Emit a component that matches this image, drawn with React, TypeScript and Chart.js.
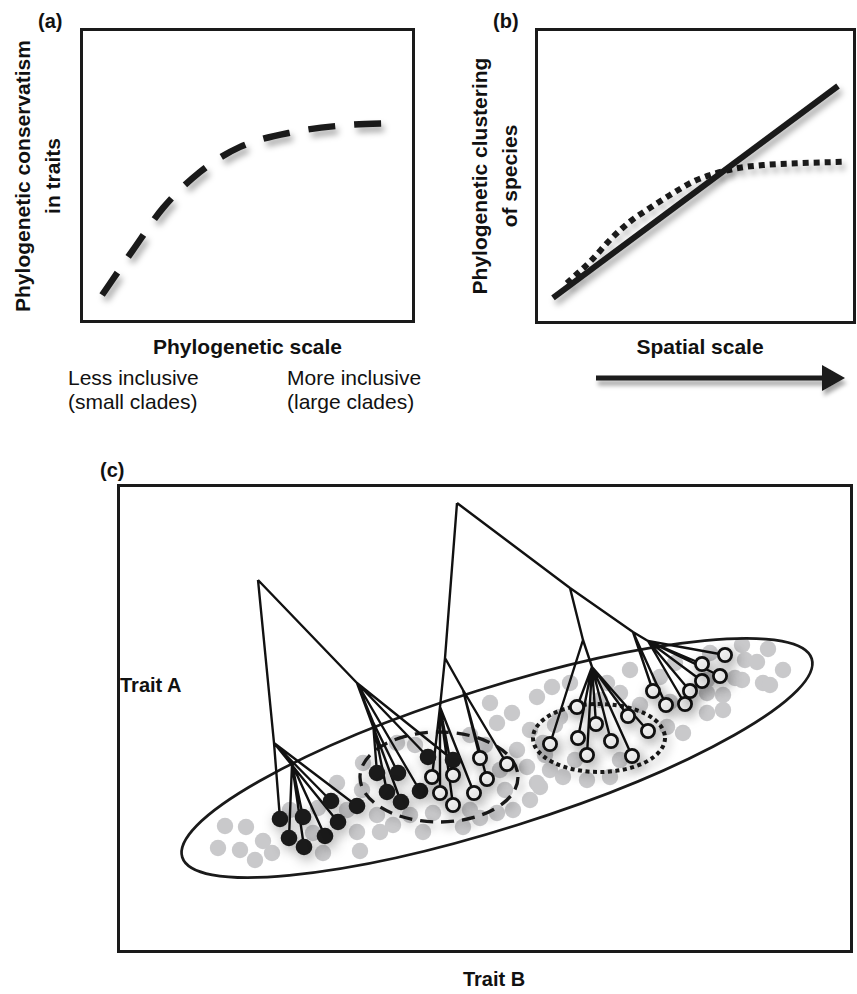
import React, { useEffect, useRef } from 'react';
import { Chart, registerables } from 'chart.js';

Chart.register(...registerables);

// ---------- Panel (a): phylogenetic conservatism vs phylogenetic scale (0-100 units) ----------
const conservatismX = [6.6, 15.8, 24.8, 35.8, 47.8, 63.6, 79.7, 94.9];
const conservatismY = [9.5, 24.7, 39.0, 51.2, 59.7, 64.7, 67.1, 67.8];

// ---------- Panel (b): phylogenetic clustering vs spatial scale (0-100 units) ----------
const linearX = [5.6, 94.4];
const linearY = [8.8, 80.4];
const saturatingX = [9.9, 17.1, 23.9, 29.6, 34.8, 42.1, 49.3, 54.5, 62.8, 71.1, 81.5, 96.0];
const saturatingY = [13.8, 21.0, 29.0, 34.6, 38.5, 43.6, 48.1, 50.3, 52.6, 53.7, 54.3, 54.8];

// ---------- Panel (c): trait space (Trait B on x: 0-736, Trait A on y: 0-469) ----------
const TRAIT_B_RANGE = [0, 736];
const TRAIT_A_RANGE = [0, 469];

// internal nodes of the phylogeny
const treeNodes: Record<string, [number, number]> = {
  L0: [141, 373],
  LA: [157, 210],
  LA1: [175, 189],
  LB: [240, 270],
  LB1: [256, 231],
  R: [340, 450],
  N2: [328, 295],
  N2a: [346, 263],
  N2b: [323, 246],
  RA: [453, 365],
  RB: [516, 321],
  RC: [531, 312],
  RD: [466, 313],
  RE: [475, 286],
};
const treeEdges: [string, string][] = [
  ['L0', 'LA'], ['L0', 'LB'], ['LA', 'LA1'], ['LB', 'LB1'],
  ['R', 'N2'], ['R', 'RA'], ['N2', 'N2a'], ['N2', 'N2b'],
  ['RA', 'RB'], ['RB', 'RC'], ['RA', 'RD'], ['RD', 'RE'],
];
// tips: [traitB, traitA, parent node]
const blackTips: [number, number, string][] = [
  [163, 134, 'LA'], [186, 136, 'LA1'], [172, 115, 'LA1'], [187, 106, 'LA1'],
  [208, 117, 'LA1'], [221, 131, 'LA'], [214, 152, 'LA'], [240, 147, 'LA'],
  [260, 180, 'LB1'], [281, 180, 'LB1'], [270, 161, 'LB1'], [284, 151, 'LB'],
  [303, 162, 'LB'], [311, 196, 'LB'], [336, 193, 'LB'],
];
const whiteTips: [number, number, string][] = [
  [363, 195, 'N2a'], [390, 189, 'N2a'], [370, 174, 'N2a'],
  [315, 176, 'N2b'], [336, 178, 'N2b'], [323, 160, 'N2b'], [336, 148, 'N2b'], [357, 160, 'N2b'],
  [433, 209, 'RD'],
  [460, 246, 'RE'], [479, 229, 'RE'], [461, 215, 'RE'], [470, 198, 'RE'],
  [494, 212, 'RE'], [511, 237, 'RE'], [531, 222, 'RE'], [515, 197, 'RE'],
  [536, 262, 'RB'], [549, 248, 'RB'],
  [568, 249, 'RC'], [573, 262, 'RC'], [585, 272, 'RC'], [585, 289, 'RC'], [603, 277, 'RC'], [608, 298, 'RC'],
];
// other species in the regional pool
const poolSpecies: [number, number][] = [
  [108, 127], [129, 126], [101, 105], [123, 103], [138, 93], [146, 112], [155, 100],
  [173, 143], [201, 145], [196, 120], [206, 100], [220, 170], [230, 143], [240, 121],
  [243, 102], [246, 190], [245, 163], [260, 138], [263, 121], [276, 128], [306, 121],
  [316, 140], [346, 126], [363, 135], [380, 140], [396, 143], [413, 153], [423, 166],
  [433, 183], [280, 210], [373, 250], [395, 240], [420, 256], [413, 223], [426, 210],
  [380, 230], [400, 203], [410, 186], [420, 170], [513, 283], [543, 276], [558, 290],
  [550, 226], [566, 220], [590, 240], [606, 243], [590, 273], [435, 266], [453, 270],
  [490, 270], [503, 260], [443, 236], [553, 251], [470, 173], [493, 176], [446, 176],
  [625, 308], [651, 304], [628, 293], [640, 291], [666, 283], [593, 300], [618, 275],
  [625, 273], [646, 270], [653, 268], [606, 258], [590, 260], [298, 208], [353, 218],
  [368, 208], [383, 183], [388, 163], [353, 143], [293, 138], [438, 228], [458, 193],
  [483, 253], [523, 248], [503, 193], [428, 198],
];
// regions: [centre B, centre A, radius B, radius A, tilt in degrees]
const regionPool = [380, 195, 330, 70, 17.5];
const regionOverdispersed = [322, 176, 79, 45, 0];
const regionClustered = [482, 215, 66, 34, 0];

const FONT = '"Liberation Sans", Arial, Helvetica, sans-serif';
const INK = '#1a1a1a';

const framePlugin = {
  id: 'frame',
  afterDraw(chart: any) {
    const { ctx, chartArea: a } = chart;
    ctx.save();
    ctx.strokeStyle = INK;
    ctx.lineWidth = 3;
    ctx.strokeRect(a.left + 1.5, a.top + 1.5, a.right - a.left - 3, a.bottom - a.top - 3);
    ctx.restore();
  },
};

function shadowPlugin(indices: number[], color: string, blur: number, dx: number, dy: number) {
  return {
    id: 'dropShadow',
    beforeDatasetDraw(chart: any, args: any) {
      if (!indices.includes(args.index)) return;
      const ctx = chart.ctx;
      ctx.save();
      ctx.shadowColor = color;
      ctx.shadowBlur = blur;
      ctx.shadowOffsetX = dx;
      ctx.shadowOffsetY = dy;
    },
    afterDatasetDraw(chart: any, args: any) {
      if (!indices.includes(args.index)) return;
      chart.ctx.restore();
    },
  };
}

const baseOptions = (xr: number[], yr: number[]) => ({
  responsive: false,
  maintainAspectRatio: false,
  animation: false as const,
  events: [] as any[],
  layout: { padding: 0, autoPadding: false },
  plugins: { legend: { display: false }, tooltip: { enabled: false } },
  scales: {
    x: { type: 'linear' as const, min: xr[0], max: xr[1], display: false },
    y: { type: 'linear' as const, min: yr[0], max: yr[1], display: false },
  },
});

const pairs = (xs: number[], ys: number[]) => xs.map((x, i) => ({ x, y: ys[i] }));

function buildPanelA() {
  return {
    type: 'scatter',
    data: {
      datasets: [
        {
          data: pairs(conservatismX, conservatismY),
          showLine: true,
          borderColor: INK,
          borderWidth: 6.5,
          borderDash: [27, 19],
          borderCapStyle: 'butt',
          cubicInterpolationMode: 'monotone',
          pointRadius: 0,
        },
      ],
    },
    options: baseOptions([0, 100], [0, 100]),
    plugins: [framePlugin, shadowPlugin([0], 'rgba(0,0,0,0.35)', 6, 3, 5)],
  };
}

function buildPanelB() {
  return {
    type: 'scatter',
    data: {
      datasets: [
        {
          data: pairs(linearX, linearY),
          showLine: true,
          borderColor: INK,
          borderWidth: 6,
          pointRadius: 0,
          order: 0,
        },
        {
          data: pairs(saturatingX, saturatingY),
          showLine: true,
          borderColor: INK,
          borderWidth: 6,
          borderDash: [6, 5],
          borderCapStyle: 'butt',
          cubicInterpolationMode: 'monotone',
          pointRadius: 0,
          order: 1,
        },
      ],
    },
    options: baseOptions([0, 100], [0, 100]),
    plugins: [framePlugin, shadowPlugin([0, 1], 'rgba(0,0,0,0.35)', 6, 3, 5)],
  };
}

function buildPanelC() {
  const branchData: { x: number; y: number | null }[] = [];
  const addEdge = (p: [number, number], c: [number, number]) => {
    branchData.push({ x: p[0], y: p[1] }, { x: c[0], y: c[1] }, { x: c[0], y: null });
  };
  treeEdges.forEach(([p, c]) => addEdge(treeNodes[p], treeNodes[c]));
  [...blackTips, ...whiteTips].forEach(([x, y, p]) => addEdge(treeNodes[p], [x, y]));

  const GRAY = 3;
  const regions = [
    { r: regionPool, dash: [] as number[], width: 2.7, shadow: false },
    { r: regionOverdispersed, dash: [13, 8], width: 3.3, shadow: true },
    { r: regionClustered, dash: [4, 3.5], width: 4, shadow: true },
  ];
  const regionPlugin = {
    id: 'regions',
    afterDatasetDraw(chart: any, args: any) {
      if (args.index !== GRAY) return;
      const { ctx, scales } = chart;
      const xs = scales.x, ys = scales.y;
      regions.forEach(({ r, dash, width, shadow }) => {
        const [cx, cy, rx, ry, tilt] = r;
        const px = xs.getPixelForValue(cx);
        const py = ys.getPixelForValue(cy);
        const prx = xs.getPixelForValue(cx + rx) - px;
        const pry = py - ys.getPixelForValue(cy + ry);
        ctx.save();
        if (shadow) {
          ctx.shadowColor = 'rgba(0,0,0,0.4)';
          ctx.shadowBlur = 10;
          ctx.shadowOffsetX = 3;
          ctx.shadowOffsetY = 4;
        }
        ctx.strokeStyle = INK;
        ctx.lineWidth = width;
        ctx.setLineDash(dash);
        ctx.lineCap = 'butt';
        ctx.beginPath();
        ctx.ellipse(px, py, prx, pry, (-tilt * Math.PI) / 180, 0, Math.PI * 2);
        ctx.stroke();
        ctx.restore();
      });
    },
  };

  return {
    type: 'scatter',
    data: {
      datasets: [
        {
          data: whiteTips.map(([x, y]) => ({ x, y })),
          pointRadius: 6.6,
          pointBackgroundColor: '#ffffff',
          pointBorderColor: '#111111',
          pointBorderWidth: 2.8,
          order: 0,
        },
        {
          data: blackTips.map(([x, y]) => ({ x, y })),
          pointRadius: 8.3,
          pointBackgroundColor: INK,
          pointBorderColor: INK,
          pointBorderWidth: 0,
          order: 1,
        },
        {
          data: branchData,
          showLine: true,
          borderColor: '#111111',
          borderWidth: 2.4,
          pointRadius: 0,
          spanGaps: false,
          order: 2,
        },
        {
          data: poolSpecies.map(([x, y]) => ({ x, y })),
          pointRadius: 8.2,
          pointBackgroundColor: '#c9c9cb',
          pointBorderColor: '#c9c9cb',
          pointBorderWidth: 0,
          order: 3,
        },
      ],
    },
    options: baseOptions(TRAIT_B_RANGE, TRAIT_A_RANGE),
    plugins: [regionPlugin, framePlugin, shadowPlugin([0, 1], 'rgba(0,0,0,0.38)', 13, 3, 4)],
  };
}

function ChartCanvas({ left, top, width, height, build }: any) {
  const ref = useRef<HTMLCanvasElement | null>(null);
  useEffect(() => {
    if (!ref.current) return;
    const chart = new Chart(ref.current, build());
    return () => chart.destroy();
  }, []);
  return (
    <canvas
      ref={ref}
      width={width}
      height={height}
      style={{ position: 'absolute', left, top, width, height }}
    />
  );
}

function Text({ left, top, size = 21, bold = false, center = false, lh, children }: any) {
  return (
    <div
      style={{
        position: 'absolute',
        left,
        top,
        fontFamily: FONT,
        fontSize: size,
        fontWeight: bold ? 700 : 400,
        lineHeight: `${lh ?? size}px`,
        color: '#111',
        whiteSpace: 'nowrap',
        transform: center ? 'translateX(-50%)' : undefined,
        textAlign: center ? 'center' : 'left',
      }}
    >
      {children}
    </div>
  );
}

function YTitle({ cx, cy, lines }: { cx: number; cy: number; lines: string[] }) {
  return (
    <div
      style={{
        position: 'absolute',
        left: cx,
        top: cy,
        transform: 'translate(-50%, -50%) rotate(-90deg)',
        fontFamily: FONT,
        fontSize: 21,
        fontWeight: 700,
        lineHeight: '30px',
        color: '#111',
        whiteSpace: 'nowrap',
        textAlign: 'center',
      }}
    >
      {lines.map((l) => (
        <div key={l}>{l}</div>
      ))}
    </div>
  );
}

export default function App() {
  return (
    <div
      style={{
        position: 'absolute',
        left: 0,
        top: 0,
        width: 857,
        height: 994,
        background: '#ffffff',
        overflow: 'hidden',
      }}
    >
      {/* Panel (a) */}
      <Text left={38} top={11} size={20} bold>(a)</Text>
      <YTitle cx={38} cy={175.5} lines={['Phylogenetic conservatism', 'in traits']} />
      <ChartCanvas left={80} top={28} width={335} height={295} build={buildPanelA} />
      <Text left={247.5} top={336} bold center>Phylogenetic scale</Text>
      <Text left={68} top={366} lh={24}>
        Less inclusive
        <br />
        (small clades)
      </Text>
      <Text left={287} top={366} lh={24}>
        More inclusive
        <br />
        (large clades)
      </Text>

      {/* Panel (b) */}
      <Text left={493} top={11} size={20} bold>(b)</Text>
      <YTitle cx={495} cy={176} lines={['Phylogenetic clustering', 'of species']} />
      <ChartCanvas left={535} top={28} width={321} height={296} build={buildPanelB} />
      <Text left={700} top={336} bold center>Spatial scale</Text>
      <svg
        width={270}
        height={46}
        style={{ position: 'absolute', left: 588, top: 356 }}
      >
        <defs>
          <filter id="arrowShadow" x="-10%" y="-60%" width="125%" height="260%">
            <feDropShadow dx="2" dy="5" stdDeviation="2.2" floodColor="#000" floodOpacity="0.35" />
          </filter>
        </defs>
        <g filter="url(#arrowShadow)">
          <line x1={8} y1={22} x2={238} y2={22} stroke={INK} strokeWidth={5} />
          <polygon points="234,9 257,22 234,35" fill={INK} />
        </g>
      </svg>

      {/* Panel (c) */}
      <Text left={100} top={460} size={20} bold>(c)</Text>
      <Text left={120} top={675} size={20} bold>Trait A</Text>
      <ChartCanvas left={117} top={484} width={736} height={469} build={buildPanelC} />
      <Text left={494} top={969} size={20} bold center>Trait B</Text>
    </div>
  );
}
